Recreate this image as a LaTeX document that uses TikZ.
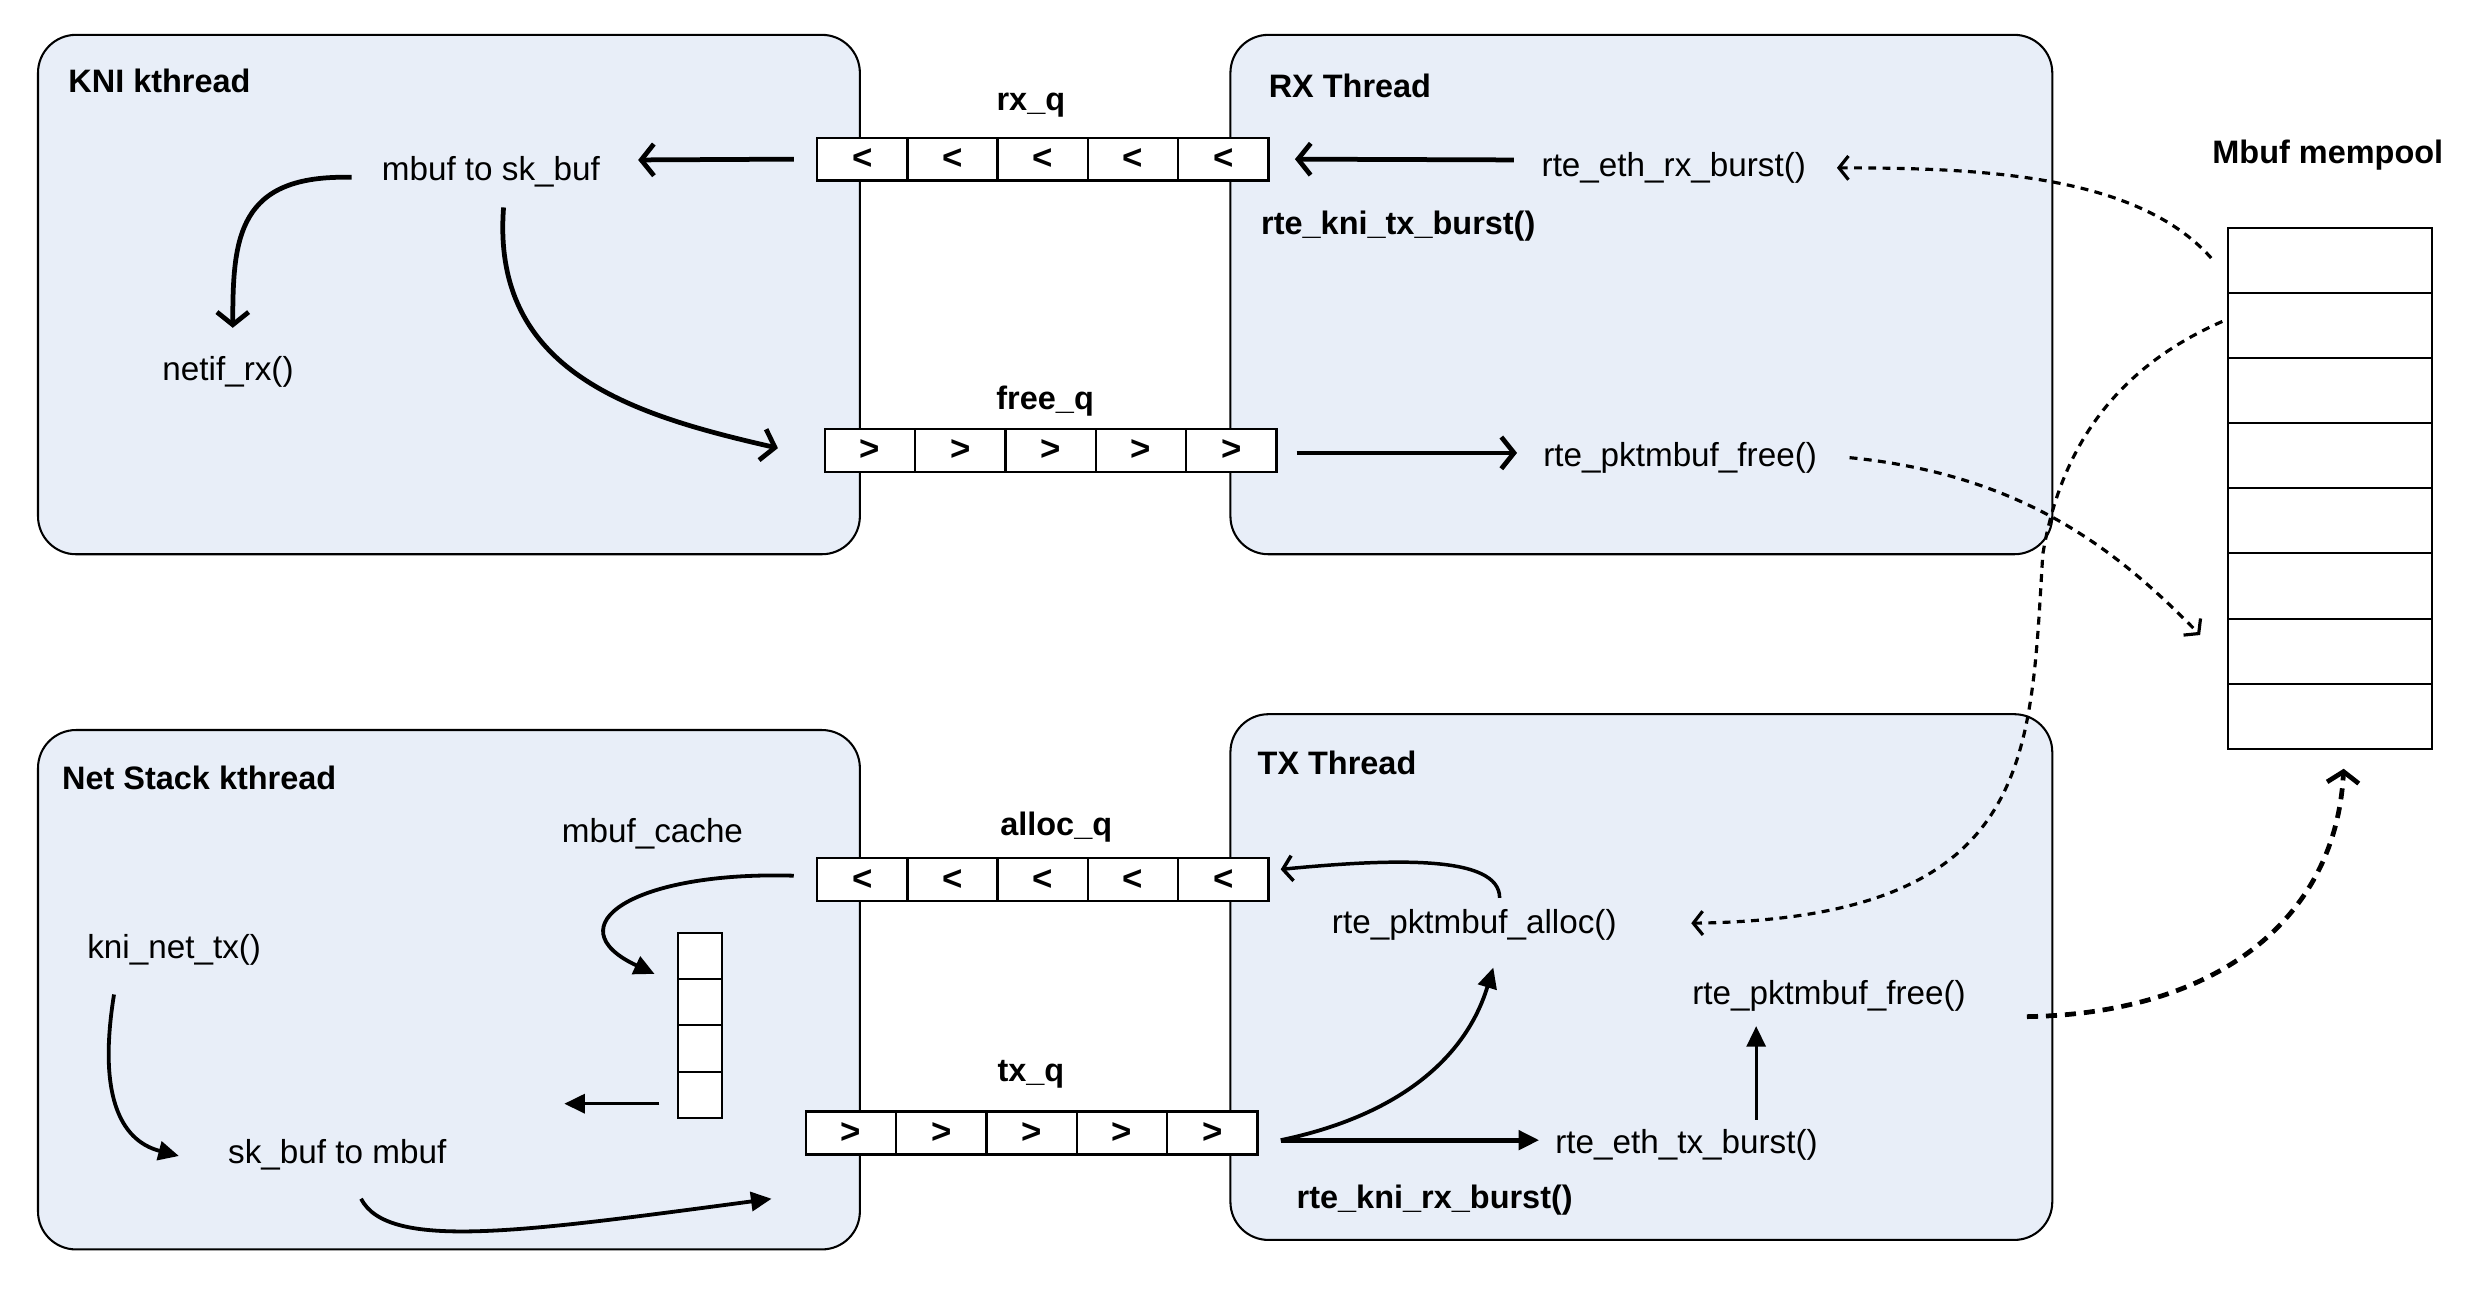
\documentclass[tikz,border=0pt]{standalone}
\usepackage{fontspec}
\setmainfont{Liberation Sans}
\usetikzlibrary{arrows.meta,calc}
\definecolor{boxfill}{RGB}{232,238,248}
\begin{document}
\begin{tikzpicture}[x=1pt,y=-1pt,
  frame/.style={draw=black, line width=1.3pt, fill=boxfill, rounded corners=24pt, minimum width=519pt, minimum height=328pt, inner sep=0pt},
  ttl/.style={font=\fontsize{20.5}{24}\selectfont\bfseries, anchor=west, inner sep=0pt},
  lbl/.style={font=\fontsize{21}{25}\selectfont, inner sep=0pt},
  blbl/.style={font=\fontsize{20.5}{24}\selectfont\bfseries, inner sep=0pt},
  qcell/.style={draw=black, line width=1.5pt, fill=white, minimum width=57pt, minimum height=27pt, inner sep=0pt, font=\fontsize{22}{22}\selectfont\bfseries},
  pcell/.style={draw=black, line width=1.3pt, fill=white, minimum width=129pt, minimum height=41.1pt, inner sep=0pt},
  mcell/.style={draw=black, line width=1.3pt, fill=white, minimum width=28pt, minimum height=29.25pt, inner sep=0pt},
  barb/.style={line width=3pt, -{Straight Barb[length=8pt,width=20pt]}},
  thinbarb/.style={line width=2.2pt, -{Straight Barb[length=6pt,width=16pt]}},
  tri/.style={line width=2.4pt, -{Triangle[length=13pt,width=12pt]}},
  dotbarb/.style={line width=2pt, dash pattern=on 5pt off 4pt, -{Straight Barb[length=6pt,width=15pt]}},
  dotbarbthick/.style={line width=3pt, dash pattern=on 7pt off 5pt, -{Straight Barb[length=7pt,width=20pt]}}
]
\useasboundingbox (0,0) rectangle (1568,827);
\fill[white] (0,0) rectangle (1568,827);

% frames
\node[frame] (kni) at (283.5,186) {};
\node[frame] (rx) at (1036.5,186) {};
\node[frame] (net) at (283.5,625) {};
\node[frame, minimum height=332pt] (tx) at (1036.5,617) {};

\node[ttl] (knit) at (43,51) {KNI kthread};
\node[ttl] (rxt) at (801,54) {RX Thread};
\node[ttl] (nett) at (39,491) {Net Stack kthread};
\node[ttl] (txt) at (794,482) {TX Thread};

% queues
\foreach \i in {1,...,5} {
  \node[qcell] (rq\i) at ({544.5+57*(\i-1)},100.5) {<};
  \node[qcell] (fq\i) at ({549.5+57*(\i-1)},284.5) {>};
  \node[qcell] (aq\i) at ({544.5+57*(\i-1)},555.5) {<};
  \node[qcell] (tq\i) at ({537.5+57*(\i-1)},715.5) {>};
}
\node[blbl] (rxql) at (651,66.5) {rx\_q};
\node[blbl] (fqql) at (660,253.5) {free\_q};
\node[blbl] (aqql) at (667,522.5) {alloc\_q};
\node[blbl] (tqql) at (651,678.5) {tx\_q};

% mempool
\node[blbl] (mpl) at (1470,98) {Mbuf mempool};
\foreach \i in {1,...,8} {
  \node[pcell] (mp\i) at (1471.5,{164.55+41.1*(\i-1)}) {};
}
% mbuf cache stack
\foreach \i in {1,...,4} {
  \node[mcell] (mc\i) at (442,{603.625+29.25*(\i-1)}) {};
}

% labels
\node[lbl] (mbuf2sk) at (310,108.5) {mbuf to sk\_buf};
\node[lbl] (netif) at (144,235) {netif\_rx()};
\node[lbl] (ethrx) at (1057,106) {rte\_eth\_rx\_burst()};
\node[blbl] (knitx) at (883,143) {rte\_kni\_tx\_burst()};
\node[lbl] (pfree1) at (1061,289) {rte\_pktmbuf\_free()};
\node[lbl] (mcache) at (412,526.5) {mbuf\_cache};
\node[lbl] (kninettx) at (110,600) {kni\_net\_tx()};
\node[lbl] (sk2mbuf) at (213,729.5) {sk\_buf to mbuf};
\node[lbl] (palloc) at (931,584) {rte\_pktmbuf\_alloc()};
\node[lbl] (pfree2) at (1155,629) {rte\_pktmbuf\_free()};
\node[lbl] (ethtx) at (1065,723) {rte\_eth\_tx\_burst()};
\node[blbl] (knirx) at (906,758) {rte\_kni\_rx\_burst()};

% top connectors
\draw[barb] ($(rq1.west)+(-14,0)$) -- ($(mbuf2sk.center)+(93,-7.5)$);
\draw[barb] ($(ethrx.center)+(-101,-5)$) -- ($(rq5.east)+(16,0)$);
\draw[barb] ($(fq5.east)+(12,1.5)$) -- ($(pfree1.center)+(-103,-3)$);
\draw[barb] ($(mbuf2sk.center)+(-88,3.5)$) .. controls +(-72,-2) and +(0,-57) .. ($(netif.center)+(3,-28)$);
\draw[barb] ($(mbuf2sk.center)+(8,22.5)$) .. controls +(-8,104) and +(-92,-21) .. ($(fq1.west)+(-29,-1.5)$);

% bottom connectors
\draw[tri] ($(aq1.west)+(-14,-2.5)$) .. controls +(-102,-3) and +(-64,-30) .. ($(mc1.west)+(-14,11.4)$);
\draw[tri, line width=2.2pt] ($(mc4.west)+(-11,5.6)$) -- ++(-60,0);
\draw[tri] ($(kninettx.center)+(-38,28)$) .. controls +(-10,62) and +(-38,-10) .. ($(sk2mbuf.center)+(-100,0.5)$);
\draw[tri] ($(sk2mbuf.center)+(15,27.5)$) .. controls +(17,33) and +(-158,21) .. ($(tq1.west)+(-21,41.5)$);
\draw[thinbarb] ($(palloc.center)+(16,-17)$) .. controls +(0,-27) and +(72,-7) .. ($(aq5.east)+(7,-6.5)$);
\draw[tri] ($(tq5.east)+(14,4.5)$) .. controls +(72,-15) and +(-18,59) .. ($(palloc.center)+(12,27)$);
\draw[tri, line width=3pt] ($(tq5.east)+(14,4.5)$) -- ($(ethtx.center)+(-93,-3)$);
\draw[tri, line width=2pt] ($(ethtx.center)+(44,-16)$) -- ($(pfree2.center)+(-46,19)$);

% dotted connectors
\coordinate (d3mid) at (1290,350);
\draw[dotbarb] ($(mp1.west)+(-10,-1.6)$) .. controls +(-47,-53) and +(90,0) .. ($(ethrx.center)+(103,0)$);
\draw[dotbarb] ($(pfree1.center)+(107,0)$) .. controls +(112,11) and +(-50,-51) .. ($(mp7.west)+(-17,-10.15)$);
\draw[dotbarb] ($(mp2.west)+(-3,-2.65)$) .. controls (1330,235) and (1300,290) .. (d3mid) .. controls (1282,480) and (1285,580) .. ($(palloc.center)+(137,-1)$);
\draw[dotbarbthick] ($(pfree2.center)+(125,13)$) .. controls +(120,-2) and +(-5,95) .. ($(mp8.south)+(8.5,12)$);
\end{tikzpicture}
\end{document}
